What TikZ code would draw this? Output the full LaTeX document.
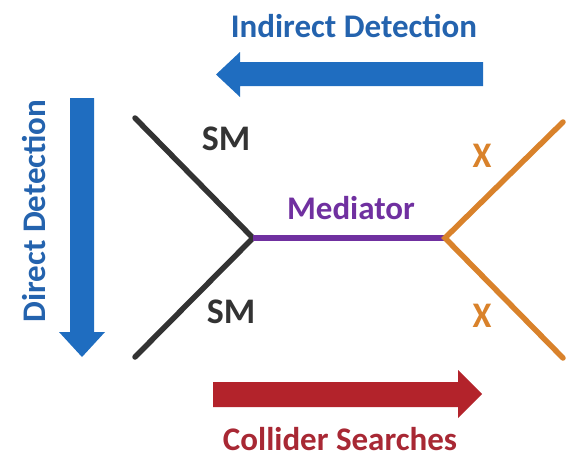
\documentclass[tikz,border=0pt]{standalone}
\usepackage{fontspec}
\setmainfont{Carlito}
\begin{document}
\begin{tikzpicture}[x=1pt,y=-1pt,
  lbl/.style={font=\bfseries\fontsize{33}{38}\selectfont, inner sep=0pt},
  biglbl/.style={font=\bfseries\fontsize{36}{40}\selectfont, inner sep=0pt},
  leg/.style={line width=5.5pt, line cap=round}]
\definecolor{ddblue}{HTML}{1F6DC0}
\definecolor{ddtext}{HTML}{2463AE}
\definecolor{colred}{HTML}{B3232B}
\definecolor{coltext}{HTML}{A82834}
\definecolor{medpurple}{HTML}{7030A0}
\definecolor{chiorange}{HTML}{D9822B}
\definecolor{smgray}{HTML}{333333}
\useasboundingbox (0,0) rectangle (570,458);

% vertices of the diagram
\coordinate (smA) at (135,118);
\coordinate (smB) at (135,357);
\coordinate (v1) at (253,238);
\coordinate (v2) at (445,238);
\coordinate (chiA) at (563,122);
\coordinate (chiB) at (563,358);

% legs
\draw[leg, smgray] (smA) -- (v1) -- (smB);
\draw[leg, medpurple, line cap=butt] (v1) -- (v2);
\draw[leg, chiorange] (chiA) -- (v2) -- (chiB);

% labels on legs
\node[biglbl, smgray] (smtop) at (226,139) {SM};
\node[biglbl, smgray] (smbot) at (231,312) {SM};
\node[lbl, medpurple] (med) at (351,208) {Mediator};
\node[biglbl, chiorange, xscale=0.95] (chitop) at (482,156) {X};
\node[biglbl, chiorange, xscale=0.95] (chibot) at (482,316) {X};

% indirect detection arrow (right to left)
\fill[ddblue] (483,62) -- (240,62) -- (240,52) -- (216,74.5) -- (240,97) -- (240,86) -- (483,86) -- cycle;
\node[lbl, ddtext] (ind) at (354,26) {Indirect Detection};

% direct detection arrow (top to bottom)
\fill[ddblue] (70,98) -- (94,98) -- (94,332) -- (105,332) -- (82,357) -- (59,332) -- (70,332) -- cycle;
\node[lbl, ddtext, rotate=90] (dir) at (34,211) {Direct Detection};

% collider searches arrow (left to right)
\fill[colred] (213,382) -- (458,382) -- (458,370) -- (482,394) -- (458,418) -- (458,407) -- (213,407) -- cycle;
\node[lbl, coltext] (col) at (340,439) {Collider Searches};
\end{tikzpicture}
\end{document}
